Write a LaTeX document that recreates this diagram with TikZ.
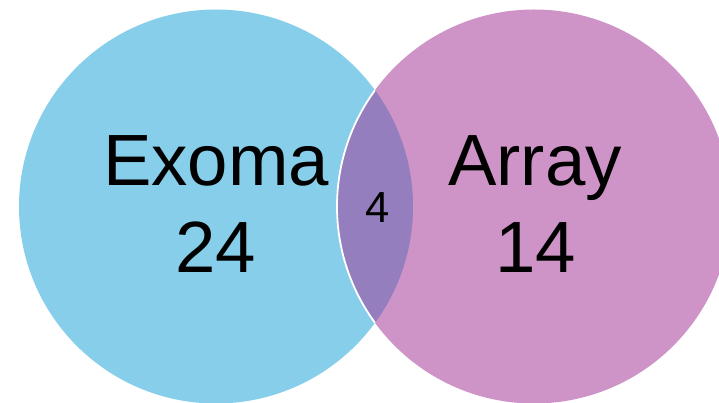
\documentclass[tikz,border=0pt]{standalone}
\usepackage{fontspec}
\setmainfont{Liberation Sans}
\definecolor{skyb}{RGB}{135,206,234}
\definecolor{pinkc}{RGB}{206,147,199}
\definecolor{lensc}{RGB}{149,126,189}
\tikzset{
  big/.style={anchor=base,inner sep=0pt,font=\fontsize{72.6}{80}\selectfont},
  small/.style={anchor=base,inner sep=0pt,font=\fontsize{43.5}{48}\selectfont}
}
\begin{document}
\begin{tikzpicture}[x=1pt,y=1pt]
\useasboundingbox (0,0) rectangle (719,403);
\begin{scope}
\clip (0,0) rectangle (719,403);
\coordinate (cl) at (216,196.5);
\coordinate (cr) at (534,196.5);
\fill[skyb] (cl) circle[radius=197];
\fill[pinkc] (cr) circle[radius=197];
\begin{scope}
\clip (cl) circle[radius=197];
\fill[lensc] (cr) circle[radius=197];
\draw[white,line width=1.8pt] (cr) circle[radius=197];
\end{scope}
\end{scope}
\node[big] (exoma) at (216,217) {Exoma};
\node[big] (n24) at (216,130) {24};
\node[big] (array) at (535,217) {Array};
\node[big] (n14) at (536,130) {14};
\node[small] (n4) at (377.5,180.5) {4};
\end{tikzpicture}
\end{document}
